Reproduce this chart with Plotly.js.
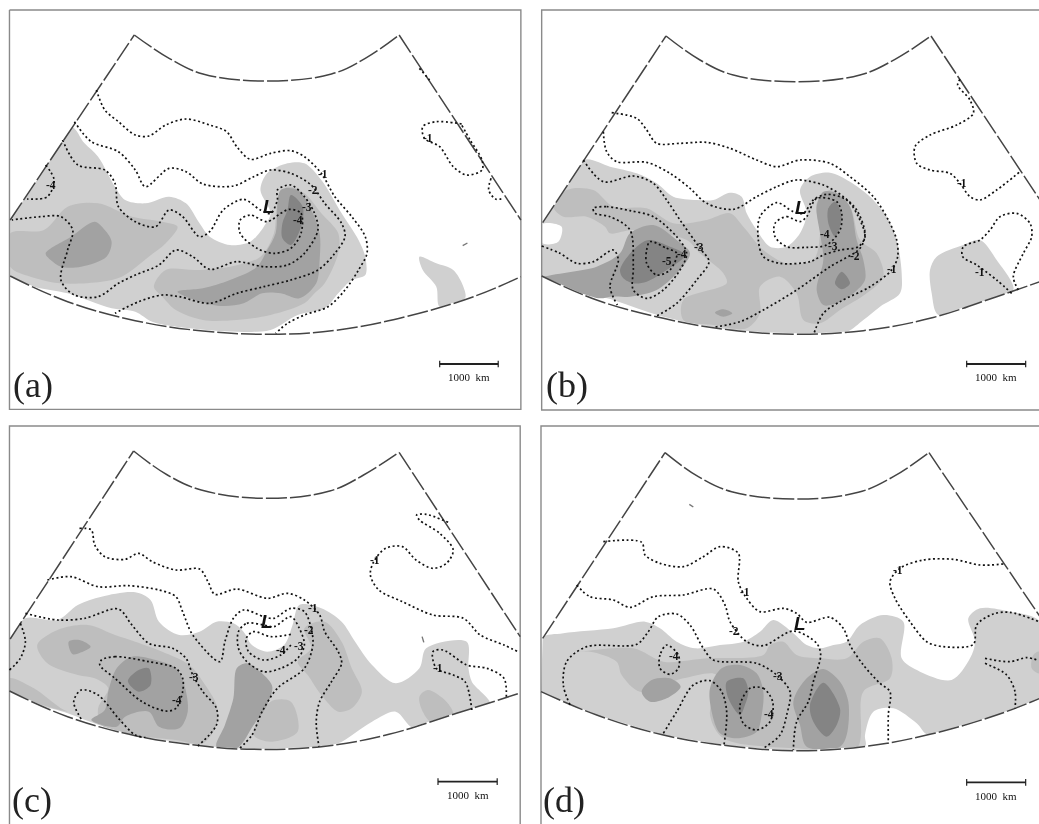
<!DOCTYPE html>
<html><head><meta charset="utf-8">
<script src="https://cdn.plot.ly/plotly-3.0.1.min.js"></script>
<style>html,body{margin:0;padding:0;background:#fff}#p{width:1039px;height:824px;filter:blur(0.55px)}</style>
</head><body><div id="p"></div>
<script>
// ---------- panel (a) : values, [x,y] in 1/3 px units of each panel ----------
const a_frame=[[28,30],[1540,30],[1540,1228],[28,1228],[28,30]];
const a_sector=[[30,660],[397,105],[500,175],[600,222],[790,243],[980,222],[1080,175],[1180,105],[1540,660]];
const a_arc=[[30,828],[200,905],[400,962],[600,993],[800,1003],[1000,990],[1200,950],[1400,890],[1540,830]];
const a_light1=[[30,828],[30,660],[100,540],[210,380],[250,430],[290,470],[340,560],[370,600],[430,610],[500,590],[550,610],[590,670],[620,710],[680,735],[740,725],[780,680],[800,640],[770,570],[790,520],[850,490],[900,490],[950,540],[1010,640],[1060,720],[1080,770],[1080,825],[1040,840],[1000,880],[960,925],[880,945],[800,990],[700,995],[560,985],[450,965],[400,935],[330,925],[200,880],[100,860]];
const a_light2=[[1240,770],[1290,790],[1340,810],[1370,860],[1375,895],[1300,920],[1290,860],[1250,810]];
const a_mid1=[[30,700],[130,690],[200,620],[290,610],[390,650],[480,665],[525,680],[490,730],[440,770],[360,830],[300,845],[180,850],[90,830],[30,800]];
const a_mid2=[[455,860],[490,810],[580,810],[680,800],[770,770],[810,700],[820,610],[850,560],[900,580],[950,640],[1000,700],[1000,760],[960,850],[930,880],[900,910],[800,945],[700,960],[600,960],[520,930],[480,890]];
const a_dark1=[[135,760],[210,710],[280,665],[310,690],[330,725],[315,770],[240,800],[180,800],[150,780]];
const a_dark2=[[525,875],[600,865],[680,840],[760,800],[790,750],[815,700],[830,570],[880,570],[920,630],[945,700],[945,780],[935,850],[885,895],[830,880],[775,880],[720,910],[660,918],[590,905]];
const a_black1=[[860,585],[895,620],[890,680],[860,735],[835,715],[835,670],[850,630]];
const a_c1=[[285,270],[310,330],[350,365],[400,405],[440,408],[490,375],[550,357],[620,375],[670,395],[700,440],[740,478],[800,460],[860,452],[900,470],[950,520],[990,590],[1040,650],[1080,710],[1085,760],[1060,810],[1020,870],[970,920],[900,945],[850,970],[815,1000]];
const a_c2=[[220,365],[270,425],[350,455],[400,510],[430,560],[500,505],[550,515],[600,552],[690,558],[750,530],[800,510],[860,520],[920,555],[960,610],[1010,670],[1020,710],[990,760],[940,810],[860,840],[780,860],[700,880],[620,910],[530,890],[480,885],[410,905],[340,940]];
const a_c3=[[185,420],[230,495],[310,510],[340,550],[350,620],[400,665],[460,680],[500,630],[540,650],[590,710],[620,695],[660,630],[720,598],[770,630],[800,640],[820,600],[820,570],[860,555],[900,590],[930,640],[940,690],[900,760],[850,795],[780,800],[700,785],[620,808],[570,770],[520,750],[470,795],[400,825],[350,850],[290,890],[220,885],[180,840],[200,750],[215,690],[180,650],[120,650],[35,660]];
const a_c4=[[855,628],[890,640],[890,700],[860,745],[810,760],[760,745],[710,700],[710,660],[740,645],[790,665],[830,640],[855,628]];
const a_c5=[[135,495],[160,540],[140,590],[80,597]];
const a_c6=[[1365,372],[1290,365],[1250,380],[1255,415],[1300,440],[1340,500],[1380,525],[1425,510],[1425,480],[1390,420],[1365,375]];
const a_c7=[[1240,205],[1270,240]];
const a_c8=[[1452,535],[1445,570],[1465,597],[1490,595]];
const a_labels=[["-1",955,522],["-2",925,570],["-3",907,620],["-4",882,660],["-4",150,555],["-1",1265,415]];
// ---------- panel (b) ----------
const b_frame=[[1530,30],[35,30],[35,1230],[1530,1230]];
const b_sector=[[38,668],[408,108],[510,180],[610,225],[800,245],[990,225],[1095,178],[1203,108],[1530,600]];
const b_arc=[[35,828],[200,900],[400,955],[600,990],[800,1003],[1000,992],[1200,955],[1400,890],[1530,845]];
const b_light1=[[40,665],[160,480],[240,500],[320,520],[380,550],[430,590],[500,600],[550,600],[600,578],[635,590],[650,640],[680,690],[720,740],[770,740],[810,700],[830,640],[810,570],[840,530],[900,518],[960,545],[1020,590],[1070,650],[1100,720],[1115,820],[1110,880],[1050,920],[1000,960],[950,995],[800,1000],[600,990],[400,950],[250,900],[35,828]];
const b_light2=[[1200,810],[1220,770],[1300,735],[1350,720],[1400,780],[1450,870],[1350,910],[1225,945],[1205,880]];
const b_hole=[[38,672],[95,680],[85,725],[38,730]];
const b_mid1=[[70,620],[110,570],[190,570],[250,620],[350,625],[430,670],[530,660],[600,640],[640,680],[700,750],[770,790],[850,780],[870,700],[860,610],[900,570],[960,620],[990,720],[1040,760],[1060,830],[1010,880],[930,930],[870,970],[820,960],[800,880],[750,830],[690,860],[690,940],[650,985],[550,975],[460,960],[460,900],[590,850],[580,820],[510,760],[470,720],[310,690],[240,700],[225,680],[170,650],[100,650]];
const b_dark1=[[35,835],[200,800],[270,760],[300,700],[370,675],[440,720],[480,760],[440,820],[380,870],[300,890],[240,890],[210,895],[100,860]];
const b_dark2=[[860,620],[880,575],[920,580],[960,620],[980,720],[1000,780],[1005,840],[970,880],[920,910],[880,915],[860,870],[880,780],[870,700]];
const b_dark3=[[555,938],[580,928],[607,940],[580,950]];
const b_black1=[[270,810],[310,750],[355,720],[420,740],[465,765],[410,810],[350,845],[310,850],[280,835]];
const b_black2=[[895,625],[915,605],[935,650],[915,710],[895,670]];
const b_black3=[[915,850],[935,815],[960,850],[935,868]];
const b_c1=[[245,338],[320,355],[350,390],[380,430],[450,430],[530,427],[600,445],[680,480],[740,500],[810,480],[900,490],[960,530],[1030,590],[1075,660],[1100,720],[1103,770],[1085,810],[1020,860],[930,905],[880,940],[852,1000]];
const b_c2=[[220,395],[230,455],[260,485],[350,487],[420,520],[480,565],[530,610],[610,628],[680,590],[740,560],[800,540],[880,555],[940,590],[980,630],[1005,700],[990,745],[900,800],[800,870],[700,930],[630,965],[550,982]];
const b_c3=[[160,480],[220,545],[310,528],[370,550],[410,600],[450,660],[510,745],[537,785],[500,840],[440,910],[380,948]];
const b_c4=[[190,625],[230,620],[300,632],[370,650],[440,710],[470,760],[450,810],[400,870],[350,895],[310,870],[310,800],[300,690],[240,650],[195,640],[190,625]];
const b_c5=[[880,765],[840,785],[750,790],[700,770],[685,720],[690,650],[740,608],[790,635],[820,640],[850,600],[890,583],[950,600],[985,650],[1005,710],[985,740],[930,750],[880,765]];
const b_c6=[[735,670],[770,650],[810,665],[830,650],[860,595],[920,605],[935,640],[930,690],[890,735],[830,742],[770,740],[735,710],[735,670]];
const b_c7=[[360,725],[410,745],[440,760],[420,810],[380,825],[350,790],[350,750],[360,725]];
const b_c8=[[35,738],[90,760],[140,790],[190,785],[250,750],[265,780],[240,860],[262,915]];
const b_c9=[[1290,238],[1283,255],[1320,300],[1330,340],[1280,375],[1200,405],[1155,440],[1160,490],[1200,510],[1260,520],[1290,550],[1320,590],[1350,600],[1400,570],[1470,515]];
const b_c10=[[1445,880],[1400,840],[1340,795],[1298,770],[1300,740],[1350,720],[1380,690],[1410,650],[1460,640],[1500,670],[1505,710],[1480,760],[1450,830],[1465,870]];
const b_labels=[["-3",508,742],["-4",455,762],["-5",410,783],["-4",885,703],["-3",910,738],["-2",975,767],["-1",1085,808],["-1",1295,550],["-1",1350,815]];
// ---------- panel (c) ----------
const c_frame=[[28,1227],[28,33],[1538,33],[1538,1227]];
const c_sector=[[30,672],[395,108],[495,180],[595,225],[785,250],[975,228],[1075,180],[1180,112],[1538,665]];
const c_arc=[[28,828],[200,905],[400,962],[600,993],[750,1003],[950,995],[1150,958],[1350,895],[1535,835]];
const c_light1=[[30,660],[75,610],[170,615],[230,570],[300,545],[400,532],[445,555],[470,620],[530,660],[590,650],[640,620],[690,625],[720,650],[745,690],[790,710],[840,690],[865,630],[885,570],[950,580],[1010,620],[1050,680],[1100,750],[1170,805],[1240,760],[1260,700],[1380,680],[1385,760],[1395,800],[1450,870],[1225,940],[1170,890],[1100,920],[1000,985],[940,995],[700,1003],[400,965],[200,895],[30,828]];
const c_mid1=[[110,690],[170,645],[260,630],[340,660],[400,680],[480,710],[560,750],[600,800],[640,870],[640,930],[600,985],[520,975],[400,960],[300,930],[290,880],[320,820],[280,790],[230,780],[140,745]];
const c_mid2=[[28,790],[100,820],[180,880],[200,890],[28,828]];
const c_mid3=[[1240,845],[1265,825],[1320,860],[1340,900],[1280,925],[1250,890]];
const c_mid4=[[900,640],[960,620],[1010,680],[1040,760],[1070,830],[1040,880],[1000,890],[950,840],[910,780],[880,740],[920,700]];
const c_mid5=[[750,960],[800,860],[860,860],[880,950],[800,980]];
const c_dark1=[[320,830],[345,760],[390,725],[460,735],[520,760],[545,810],[555,890],[530,940],[470,935],[440,890],[370,905],[345,935],[270,915],[310,885]];
const c_dark2=[[700,760],[730,745],[780,780],[805,815],[790,870],[750,930],[700,1000],[640,995],[665,930],[690,850]];
const c_dark3=[[203,680],[235,675],[268,695],[240,712],[215,718]];
const c_black1=[[378,798],[410,765],[440,760],[445,810],[410,830]];
const c_c1=[[235,340],[270,345],[280,390],[310,425],[370,433],[410,415],[450,440],[520,465],[590,462],[615,500],[635,538],[700,522],[790,550],[850,535],[900,555],[945,600],[960,650],[1000,710],[1010,745],[980,800],[945,860],[935,920],[943,995]];
const c_c2=[[140,495],[210,485],[290,515],[380,512],[470,525],[520,545],[540,590],[570,660],[650,740],[665,680],[690,610],[720,585],[780,605],[810,610],[860,580],[900,590],[920,640],[925,690],[900,760],[820,820],[775,890],[745,960],[705,1003]];
const c_c3=[[75,595],[170,615],[250,610],[350,582],[390,630],[440,685],[510,700],[550,730],[570,780],[600,830],[640,880],[640,930],[585,993]];
const c_c4=[[705,650],[730,625],[780,630],[810,635],[860,605],[885,640],[900,690],[880,730],[830,760],[780,770],[730,740],[705,700],[705,650]];
const c_c5=[[860,658],[800,665],[750,650],[728,670],[735,710],[780,735],[830,720],[860,690]];
const c_c6=[[300,735],[340,725],[440,740],[520,760],[540,790],[540,830],[520,880],[490,888],[420,860],[340,790],[295,750],[300,735]];
const c_c7=[[240,912],[218,860],[240,825],[290,840],[350,910],[400,960],[435,968]];
const c_c8=[[60,625],[75,680],[60,730],[28,765]];
const c_c9=[[1325,322],[1260,298],[1232,300],[1240,315],[1300,355],[1340,405],[1320,445],[1280,460],[1230,435],[1190,395],[1140,400],[1105,440],[1095,480],[1120,525],[1190,560],[1280,600],[1370,610],[1420,660],[1490,690],[1535,712]];
const c_c10=[[1395,885],[1375,800],[1340,780],[1290,760],[1280,710],[1310,705],[1380,750],[1440,760],[1490,790],[1497,845]];
const c_labels=[["-1",925,580],["-2",915,645],["-3",885,692],["-4",830,705],["-3",575,785],["-4",522,855],["-1",1108,435],["-1",1295,760]];
const c_speck=[[1248,665],[1253,682]];
// ---------- panel (d) ----------
const d_frame=[[33,1227],[33,33],[1530,33]];
const d_sector=[[38,670],[405,113],[505,185],[605,230],[790,252],[985,232],[1090,185],[1197,113],[1530,605]];
const d_arc=[[33,830],[200,900],[400,960],[600,993],[790,1007],[1000,995],[1200,958],[1400,900],[1530,850]];
const d_light1=[[36,670],[100,655],[250,640],[345,620],[390,640],[440,680],[495,700],[570,690],[640,680],[690,650],[730,615],[790,655],[830,690],[870,700],[910,690],[950,680],[990,630],[1060,600],[1120,620],[1115,730],[1170,770],[1265,795],[1320,730],[1335,680],[1315,610],[1350,580],[1440,590],[1530,620],[1530,850],[1380,920],[1195,960],[1160,925],[1090,880],[1030,890],[1005,960],[1005,995],[790,1007],[400,960],[120,870],[33,830]];
const d_mid1=[[120,715],[310,700],[400,740],[530,730],[700,720],[720,690],[760,680],[800,720],[870,730],[950,730],[1000,680],[1050,670],[1085,730],[1080,790],[1000,830],[980,1000],[800,1000],[580,970],[540,900],[560,780],[460,790],[330,830],[275,780],[260,740],[180,710]];
const d_mid2=[[1510,720],[1527,710],[1527,775],[1505,760]];
const d_dark1=[[335,830],[365,795],[420,790],[452,815],[410,850],[360,860]];
const d_dark2=[[540,820],[575,760],[630,750],[680,775],[700,830],[695,900],[680,950],[620,970],[570,955],[545,890]];
const d_dark3=[[790,860],[830,790],[880,762],[930,800],[955,860],[950,960],[930,995],[830,995],[810,930]];
const d_black1=[[590,800],[640,790],[655,830],[645,870],[630,900],[595,850]];
const d_black2=[[840,870],[880,803],[930,880],[920,930],[890,965],[850,920]];
const d_c1=[[220,380],[335,382],[345,420],[390,445],[460,455],[520,425],[570,395],[625,415],[625,500],[650,550],[690,590],[760,580],[800,595],[830,622],[900,607],[940,640],[960,690],[1000,750],[1050,805],[1080,830],[1075,900],[1075,985]];
const d_c2=[[140,510],[180,545],[250,555],[300,577],[370,545],[460,540],[550,522],[585,570],[600,620],[650,680],[700,692],[790,648],[860,685],[872,720],[850,800],[835,860],[800,920],[790,1005]];
const d_c3=[[120,870],[100,810],[110,740],[170,695],[320,688],[355,650],[385,605],[440,597],[480,630],[520,700],[550,735],[680,745],[740,780],[780,830],[770,900],[750,960],[700,1000]];
const d_c4=[[410,690],[390,720],[390,760],[420,778],[445,760],[445,720],[410,690]];
const d_c5=[[660,820],[700,820],[728,860],[720,920],[680,945],[640,925],[630,870],[660,820]];
const d_c6=[[400,955],[440,890],[490,810],[540,797],[575,830],[590,890],[582,990]];
const d_c7=[[1420,447],[1350,450],[1270,433],[1180,435],[1110,460],[1080,500],[1095,550],[1140,620],[1190,680],[1240,695],[1330,688],[1340,630],[1390,597],[1440,592],[1527,620]];
const d_c8=[[1365,730],[1440,740],[1490,728],[1527,737]];
const d_c9=[[1365,745],[1430,780],[1455,830],[1455,880]];
const d_labels=[["-1",645,530],["-2",612,647],["-3",745,782],["-4",433,722],["-4",718,897],["-1",1105,465]];
const d_speck=[[478,268],[490,276]];
const a_speck=[[1368,737],[1382,729]];
// names, centres and scale bars
const panelTags=["(a)","(b)","(c)","(d)"];
const tagAnchors=[[35,1190],[45,1190],[33,1190],[35,1190]];
const lowAnchors=[[795,620],[812,622],[790,620],[810,625]];
const scaleBars=[[1300,1473,1092,1132],[1310,1487,1092,1130],[1295,1470,1100,1140],[1310,1487,1102,1142]];
const scaleText="1000\u00A0\u00A0km";
const cropUnitsX=[1567,1527,1567,1527];

const C={light:"#d0d0d0",mid:"#bebebe",dark:"#a2a2a2",black:"#848484",white:"#ffffff"};
const panels=[
 {s:"",frame:a_frame,sector:a_sector,arc:a_arc,fills:[[a_light1,C.light],[a_light2,C.light],[a_mid1,C.mid],[a_mid2,C.mid],[a_dark1,C.dark],[a_dark2,C.dark],[a_black1,C.black]],
  lines:[a_c1,a_c2,a_c3,a_c4,a_c5,a_c6,a_c7,a_c8],labels:a_labels,speck:a_speck},
 {s:"2",frame:b_frame,sector:b_sector,arc:b_arc,fills:[[b_light1,C.light],[b_light2,C.light],[b_hole,C.white],[b_mid1,C.mid],[b_dark1,C.dark],[b_dark2,C.dark],[b_dark3,C.dark],[b_black1,C.black],[b_black2,C.black],[b_black3,C.black]],
  lines:[b_c1,b_c2,b_c3,b_c4,b_c5,b_c6,b_c7,b_c8,b_c9,b_c10],labels:b_labels},
 {s:"3",frame:c_frame,sector:c_sector,arc:c_arc,fills:[[c_light1,C.light],[c_mid1,C.mid],[c_mid2,C.mid],[c_mid3,C.mid],[c_mid4,C.mid],[c_mid5,C.mid],[c_dark1,C.dark],[c_dark2,C.dark],[c_dark3,C.dark],[c_black1,C.black]],
  lines:[c_c1,c_c2,c_c3,c_c4,c_c5,c_c6,c_c7,c_c8,c_c9,c_c10],labels:c_labels,speck:c_speck},
 {s:"4",frame:d_frame,sector:d_sector,arc:d_arc,fills:[[d_light1,C.light],[d_mid1,C.mid],[d_mid2,C.mid],[d_dark1,C.dark],[d_dark2,C.dark],[d_dark3,C.dark],[d_black1,C.black],[d_black2,C.black]],
  lines:[d_c1,d_c2,d_c3,d_c4,d_c5,d_c6,d_c7,d_c8,d_c9],labels:d_labels,speck:d_speck}
];
const W=1039,H=824,XS=530,YS=415;
const traces=[],annotations=[];
const layout={width:W,height:H,margin:{l:0,r:0,t:0,b:0},paper_bgcolor:"#fff",plot_bgcolor:"rgba(0,0,0,0)",showlegend:false,hovermode:false,annotations};
const doms=[[0,XS/W,1-YS/H,1],[XS/W,1,1-YS/H,1],[0,XS/W,0,1-YS/H],[XS/W,1,0,1-YS/H]];
const rngY=[YS*3,YS*3,(H-YS)*3,(H-YS)*3];
const xy=p=>({x:p.map(q=>q[0]),y:p.map(q=>q[1])});
panels.forEach((p,i)=>{
  const xa="x"+p.s,ya="y"+p.s;
  const RX=cropUnitsX[i],RY=rngY[i];
  const base={xaxis:xa,yaxis:ya,mode:"lines",hoverinfo:"skip"};
  layout["xaxis"+p.s]={domain:doms[i].slice(0,2),range:[0,RX],visible:false,fixedrange:true};
  layout["yaxis"+p.s]={domain:doms[i].slice(2,4),range:[RY,0],visible:false,fixedrange:true};
  p.fills.forEach(([poly,col])=>traces.push({...base,...xy(poly.concat([poly[0]])),fill:"toself",fillcolor:col,line:{color:col,width:0,shape:"spline",smoothing:0.9}}));
  const s=p.sector,a=p.arc;
  const masks=[
    a.concat([[RX,a[a.length-1][1]],[RX,RY],[0,RY],[0,a[0][1]]]),
    [s[1],s[0],a[0],[0,a[0][1]],[0,s[1][1]]],
    [s[7],s[8],a[a.length-1],[RX,a[a.length-1][1]],[RX,s[7][1]]]
  ];
  masks.forEach(m=>traces.push({...base,...xy(m.concat([m[0]])),fill:"toself",fillcolor:"#fff",line:{color:"#fff",width:0}}));
  traces.push({...base,...xy(p.frame),line:{color:"#8a8a8a",width:1.4}});
  [s.slice(0,2),s.slice(1,8),s.slice(7,9),a].forEach(q=>traces.push({...base,...xy(q),line:{color:"#444",width:1.5,dash:"21px,3px",shape:"spline",smoothing:1.1}}));
  p.lines.forEach(l=>traces.push({...base,...xy(l),line:{color:"#111",width:1.7,dash:"2px,2.6px",shape:"spline",smoothing:0.9}}));
  if(p.speck)traces.push({...base,...xy(p.speck),line:{color:"#777",width:1.4}});
  const [x0,x1,yb,yt]=scaleBars[i];
  traces.push({...base,x:[x0,x1],y:[yb,yb],line:{color:"#222",width:1.8}});
  traces.push({...base,x:[x0,x0],y:[yb-10,yb+10],line:{color:"#222",width:1.2}});
  traces.push({...base,x:[x1,x1],y:[yb-10,yb+10],line:{color:"#222",width:1.2}});
  const ann=(text,x,y,font,extra)=>annotations.push({xref:xa,yref:ya,x,y,text,showarrow:false,font,borderpad:0,...extra});
  p.labels.forEach(([t,x,y])=>ann("<b>"+t+"</b>",x,y,{family:"Liberation Serif",size:11.5,color:"#111"}));
  ann("<b><i>L</i></b>",lowAnchors[i][0],lowAnchors[i][1],{family:"Liberation Sans",size:19,color:"#111"});
  ann(scaleText,(x0+x1)/2,yt,{family:"Liberation Serif",size:11,color:"#111"});
  ann(panelTags[i],tagAnchors[i][0],tagAnchors[i][1],{family:"Liberation Serif",size:36,color:"#222"},{xanchor:"left",yanchor:"bottom",yshift:-9});
});
Plotly.newPlot("p",traces,layout,{displayModeBar:false,staticPlot:true});
</script></body></html>
